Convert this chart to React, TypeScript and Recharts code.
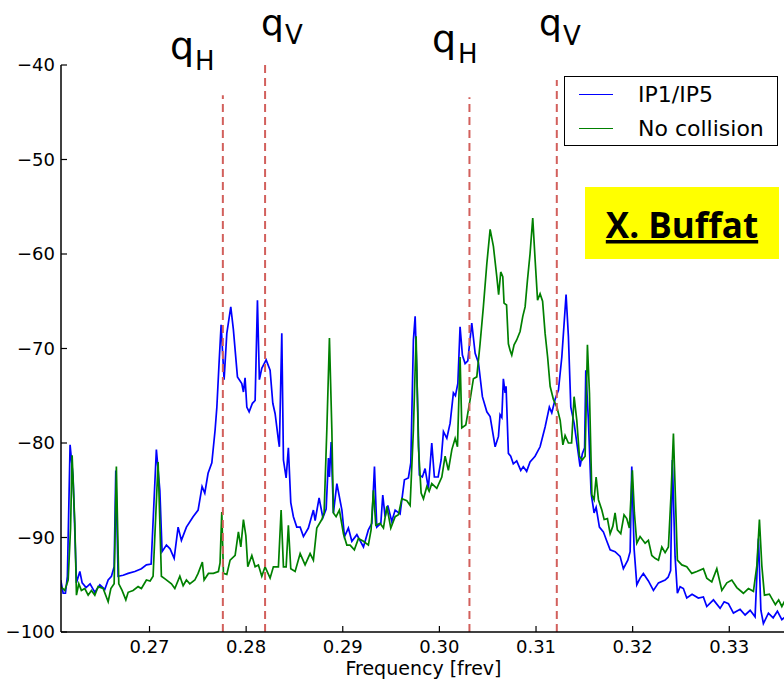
import React from 'react';
import { LineChart, Line, XAxis, YAxis, ReferenceLine, Legend, Customized } from 'recharts';

const xTicks = [0.27, 0.28, 0.29, 0.3, 0.31, 0.32, 0.33];
const yTicks = [-100, -90, -80, -70, -60, -50, -40];

// IP1/IP5 spectrum
const ip15Freq = [
  0.26082, 0.26106, 0.2613, 0.2615, 0.26178, 0.26209, 0.26244, 0.26279, 0.26303, 0.26344,
  0.26385, 0.26434, 0.26486, 0.26537, 0.26572, 0.26606, 0.26634, 0.26651, 0.26675, 0.26727,
  0.26779, 0.26848, 0.26916, 0.26968, 0.27017, 0.27071, 0.27107, 0.2713, 0.27175, 0.27213,
  0.27255, 0.27296, 0.2733, 0.27382, 0.27451, 0.27503, 0.27544, 0.27572, 0.27606, 0.27645,
  0.27679, 0.27697, 0.2772, 0.27741, 0.27759, 0.27772, 0.278, 0.27841, 0.27868, 0.2791,
  0.27955, 0.27972, 0.27989, 0.28007, 0.28031, 0.28065, 0.28093, 0.28117, 0.28137, 0.28162,
  0.28207, 0.28248, 0.28276, 0.283, 0.28334, 0.28344, 0.28369, 0.28386, 0.28414, 0.28437,
  0.28462, 0.28489, 0.28524, 0.28559, 0.28593, 0.28644, 0.28696, 0.28714, 0.28755, 0.28794,
  0.28828, 0.28852, 0.28862, 0.2888, 0.28903, 0.28939, 0.28991, 0.29018, 0.29058, 0.29094,
  0.29146, 0.29214, 0.29265, 0.29301, 0.29328, 0.29352, 0.29394, 0.29414, 0.29438, 0.29466,
  0.29507, 0.29542, 0.29593, 0.29638, 0.29679, 0.29704, 0.29731, 0.29749, 0.29766, 0.29793,
  0.29824, 0.29852, 0.29886, 0.29921, 0.29948, 0.29987, 0.30018, 0.30042, 0.30077, 0.30111,
  0.30145, 0.30166, 0.30191, 0.30214, 0.30238, 0.30266, 0.30294, 0.30335, 0.3037, 0.30404,
  0.30445, 0.30491, 0.30525, 0.30577, 0.30611, 0.30628, 0.30646, 0.30662, 0.3068, 0.3069,
  0.30714, 0.30738, 0.30765, 0.308, 0.30842, 0.30868, 0.30903, 0.30938, 0.3099, 0.31042,
  0.31094, 0.31138, 0.31163, 0.31197, 0.31232, 0.31267, 0.31311, 0.31335, 0.3136, 0.31394,
  0.31428, 0.31456, 0.3148, 0.31503, 0.31515, 0.31542, 0.3157, 0.31601, 0.31622, 0.31656,
  0.31697, 0.31733, 0.31767, 0.31818, 0.3187, 0.31904, 0.3195, 0.31974, 0.31991, 0.32015,
  0.32043, 0.32077, 0.32111, 0.32163, 0.32215, 0.32267, 0.32336, 0.32367, 0.32393, 0.32411,
  0.32439, 0.32463, 0.32491, 0.32525, 0.3256, 0.32615, 0.3268, 0.32732, 0.32767, 0.32836,
  0.32905, 0.32947, 0.32991, 0.33043, 0.33112, 0.33164, 0.33216, 0.33267, 0.33302, 0.33327,
  0.33353, 0.33405, 0.33454, 0.33498, 0.33544, 0.33579,
];
const ip15Db = [
  -94.5, -95.9, -95.9, -94.1, -80.2, -83.6, -94.8, -93.6, -94.8, -95.3,
  -94.9, -95.8, -95.0, -95.5, -94.5, -94.1, -93.1, -82.9, -94.1, -94.0,
  -93.8, -93.6, -93.3, -92.9, -92.8, -80.7, -85.0, -91.5, -90.8, -91.2,
  -92.2, -88.9, -90.3, -88.9, -87.8, -87.1, -84.6, -85.3, -83.2, -82.1,
  -78.6, -76.2, -71.5, -67.5, -70.9, -73.3, -68.4, -65.6, -68.0, -73.0,
  -73.7, -74.6, -73.1, -76.2, -76.7, -75.8, -75.5, -64.9, -73.3, -72.1,
  -71.2, -72.3, -75.8, -76.9, -79.7, -80.4, -68.4, -81.8, -83.7, -80.5,
  -86.3, -87.8, -88.9, -88.9, -89.9, -89.0, -87.1, -88.2, -85.8, -87.9,
  -87.0, -81.6, -83.6, -79.9, -87.4, -84.3, -87.1, -89.9, -89.0, -90.4,
  -89.7, -91.0, -89.2, -88.5, -82.5, -88.9, -88.5, -85.5, -87.8, -86.6,
  -88.3, -87.1, -87.5, -83.9, -83.7, -82.1, -69.1, -66.6, -72.3, -83.4,
  -83.6, -82.7, -84.8, -80.0, -83.6, -83.6, -81.8, -78.8, -79.5, -77.9,
  -74.7, -75.0, -73.7, -67.7, -70.7, -71.6, -71.3, -67.3, -70.5, -71.5,
  -75.1, -76.7, -77.2, -80.4, -79.3, -77.0, -77.3, -73.2, -74.7, -74.0,
  -81.1, -81.4, -82.2, -81.9, -82.9, -82.5, -83.0, -82.0, -81.4, -80.4,
  -78.3, -76.2, -76.8, -75.4, -74.4, -70.9, -64.3, -68.7, -76.2, -77.9,
  -80.4, -82.5, -81.1, -80.5, -72.3, -77.6, -85.3, -87.4, -86.8, -88.9,
  -89.4, -90.4, -91.3, -91.5, -92.0, -93.3, -92.4, -91.5, -82.5, -91.2,
  -95.0, -94.3, -93.8, -94.6, -95.6, -94.8, -94.5, -94.2, -93.5, -81.8,
  -92.0, -95.9, -95.2, -95.4, -96.4, -96.0, -96.4, -96.3, -97.3, -96.6,
  -97.5, -96.8, -97.0, -98.0, -97.6, -98.2, -97.7, -98.4, -90.1, -97.7,
  -99.1, -98.0, -98.5, -97.8, -98.7, -98.4,
];

// No collision spectrum
const noCollFreq = [
  0.26082, 0.26123, 0.26158, 0.26183, 0.26199, 0.26227, 0.26244, 0.26268, 0.26295, 0.2633,
  0.26365, 0.26399, 0.26434, 0.26468, 0.2652, 0.26572, 0.266, 0.26634, 0.26657, 0.26682,
  0.26716, 0.26755, 0.26779, 0.2683, 0.26882, 0.26916, 0.26968, 0.27006, 0.27037, 0.27089,
  0.27123, 0.27164, 0.27227, 0.27262, 0.27314, 0.27348, 0.27382, 0.27417, 0.27469, 0.27503,
  0.27547, 0.27565, 0.2761, 0.27661, 0.27713, 0.2773, 0.27748, 0.27765, 0.278, 0.27834,
  0.27886, 0.2792, 0.27945, 0.27972, 0.27997, 0.28017, 0.28059, 0.28093, 0.28127, 0.28162,
  0.28196, 0.28248, 0.28282, 0.28334, 0.28362, 0.28386, 0.28414, 0.28437, 0.28462, 0.28507,
  0.28559, 0.2861, 0.28662, 0.28696, 0.28731, 0.28783, 0.28807, 0.28835, 0.28862, 0.28887,
  0.28903, 0.28931, 0.28965, 0.29007, 0.29042, 0.29076, 0.2912, 0.29162, 0.29214, 0.29265,
  0.29293, 0.29317, 0.29342, 0.29386, 0.29421, 0.29456, 0.29497, 0.29542, 0.29576, 0.29611,
  0.29663, 0.29697, 0.29731, 0.29759, 0.29783, 0.29811, 0.29835, 0.2987, 0.29894, 0.29921,
  0.29973, 0.30025, 0.30059, 0.30093, 0.30129, 0.30163, 0.30187, 0.30214, 0.30232, 0.30273,
  0.30318, 0.30352, 0.30387, 0.30421, 0.30455, 0.30491, 0.30525, 0.30559, 0.30594, 0.30613,
  0.30635, 0.30656, 0.30669, 0.30695, 0.30714, 0.30732, 0.30749, 0.30773, 0.308, 0.30835,
  0.30863, 0.30887, 0.30911, 0.30938, 0.30966, 0.3099, 0.31016, 0.31042, 0.31068, 0.31094,
  0.3112, 0.31146, 0.3118, 0.31216, 0.3125, 0.31278, 0.31301, 0.31335, 0.31368, 0.31394,
  0.31422, 0.31449, 0.31477, 0.31508, 0.31532, 0.31553, 0.31578, 0.31601, 0.31622, 0.31646,
  0.31681, 0.31705, 0.31739, 0.31767, 0.31795, 0.31818, 0.31842, 0.31877, 0.31911, 0.31939,
  0.31966, 0.31997, 0.32018, 0.32043, 0.32077, 0.32129, 0.32163, 0.32198, 0.32232, 0.32267,
  0.32302, 0.32336, 0.3237, 0.32398, 0.32422, 0.32439, 0.32463, 0.32509, 0.3256, 0.32612,
  0.32664, 0.32732, 0.32767, 0.32819, 0.32871, 0.32923, 0.32975, 0.33026, 0.33078, 0.33146,
  0.33198, 0.3325, 0.33285, 0.33312, 0.33337, 0.33364, 0.33415, 0.33477, 0.33511, 0.33544,
  0.33579,
];
const noCollDb = [
  -95.2, -95.6, -94.5, -89.0, -81.3, -88.5, -96.1, -94.9, -95.6, -95.4,
  -96.1, -95.6, -96.1, -95.2, -95.4, -96.8, -95.4, -94.9, -82.5, -94.9,
  -95.6, -96.6, -95.8, -95.6, -95.2, -95.4, -94.5, -94.6, -94.1, -82.0,
  -94.1, -94.4, -94.9, -95.4, -94.1, -95.1, -94.5, -94.9, -94.5, -93.8,
  -92.6, -94.5, -93.8, -93.8, -93.6, -92.7, -87.3, -93.8, -93.9, -92.4,
  -91.9, -89.4, -91.0, -88.1, -89.8, -93.1, -91.9, -93.1, -92.9, -94.1,
  -93.1, -94.3, -93.1, -93.1, -87.1, -93.1, -93.1, -88.7, -93.3, -93.6,
  -91.7, -92.9, -91.7, -92.4, -89.0, -88.1, -87.4, -78.6, -68.9, -78.6,
  -87.4, -87.8, -87.1, -89.6, -90.8, -90.8, -91.3, -90.1, -90.4, -90.8,
  -89.2, -85.0, -88.7, -88.5, -89.0, -86.7, -89.0, -87.8, -87.6, -85.9,
  -86.1, -86.6, -78.6, -68.7, -80.4, -85.3, -85.9, -84.6, -85.1, -84.3,
  -84.8, -83.6, -81.4, -82.9, -80.7, -79.5, -80.4, -70.9, -78.4, -78.1,
  -75.4, -73.2, -73.0, -69.5, -65.6, -61.0, -57.4, -59.2, -62.4, -64.3,
  -61.9, -62.4, -65.2, -65.4, -69.5, -70.2, -70.7, -69.6, -69.1, -68.2,
  -66.6, -65.6, -62.8, -60.0, -56.2, -60.5, -64.9, -64.2, -65.0, -68.4,
  -70.9, -74.0, -75.4, -76.2, -77.6, -80.2, -79.2, -80.0, -80.0, -75.1,
  -77.6, -81.4, -81.8, -81.4, -69.6, -74.7, -85.5, -86.0, -83.6, -86.0,
  -87.1, -88.1, -88.0, -89.6, -88.8, -87.4, -89.2, -89.6, -87.6, -88.0,
  -89.0, -82.9, -87.4, -90.6, -89.9, -90.6, -90.3, -91.9, -92.2, -92.4,
  -91.0, -91.6, -91.0, -85.3, -79.0, -84.6, -92.4, -92.9, -93.1, -93.8,
  -93.6, -93.3, -94.3, -94.7, -93.3, -95.6, -94.8, -94.5, -95.3, -95.9,
  -95.4, -95.7, -93.0, -88.1, -93.0, -96.1, -96.0, -97.1, -96.6, -97.3,
  -96.6,
];

// tune markers (dashed lines): frequency and top end in dB
const tuneFreq = [0.27759, 0.28196, 0.30311, 0.31215];
const tuneTop = [-43.2, -39.5, -43.4, -41.6];

const ip15Data = ip15Freq.map((f, i) => ({ freq: f, db: ip15Db[i] }));
const noCollData = noCollFreq.map((f, i) => ({ freq: f, db: noCollDb[i] }));

const FONT = 'DejaVu Sans';
const minus = (v: number) => String(v).replace('-', '\u2212');

function LegendBox({ payload }: any) {
  return (
    <div
      style={{
        width: 214,
        height: 70,
        boxSizing: 'border-box',
        border: '1.5px solid #000',
        background: '#fff',
        fontFamily: FONT,
        fontSize: 22,
        color: '#000',
      }}
    >
      {(payload || []).map((entry: any) => (
        <div key={entry.value} style={{ display: 'flex', alignItems: 'center', height: 34 }}>
          <span style={{ width: 34, borderTop: `1.5px solid ${entry.color}`, marginLeft: 14, marginRight: 25 }} />
          <span>{entry.value}</span>
        </div>
      ))}
    </div>
  );
}

// q_H / q_V labels above the dashed tune lines, and the author tag
function Annotations() {
  return (
    <g fontFamily={FONT} fill="#000">
      <text x={170} y={59} fontSize={38}>q</text>
      <text x={195} y={70} fontSize={26}>H</text>
      <text x={261} y={35} fontSize={36}>q</text>
      <text x={285} y={44} fontSize={26}>V</text>
      <text x={432} y={52} fontSize={38}>q</text>
      <text x={458} y={63} fontSize={26}>H</text>
      <text x={539} y={35} fontSize={36}>q</text>
      <text x={563} y={45} fontSize={26}>V</text>
      <rect x={585} y={187} width={194} height={72} fill="#ffff00" />
      <text
        x={682}
        y={238}
        textAnchor="middle"
        fontFamily="Open Sans"
        fontWeight={700}
        fontSize={35}
        textDecoration="underline"
      >
        X. Buffat
      </text>
    </g>
  );
}

export default function App() {
  const axisLine = { stroke: '#000', strokeWidth: 1.5 };
  const tickLine = { stroke: '#000', strokeWidth: 1.2 };
  const tickStyle = { fill: '#000', fontSize: 18, fontFamily: FONT };
  const xDomain = [0.26084, 0.33587];

  return (
    <div style={{ position: 'fixed', left: 0, top: 0, width: 784, height: 681, overflow: 'hidden', background: '#fff' }}>
      <LineChart width={792} height={681} margin={{ top: 65, right: 6, bottom: 0, left: 0 }}>
        <XAxis
          dataKey="freq"
          type="number"
          domain={xDomain}
          allowDataOverflow
          ticks={xTicks}
          tickFormatter={(v) => v.toFixed(2)}
          height={49}
          tickSize={-6}
          tickMargin={14}
          axisLine={axisLine}
          tickLine={tickLine}
          tick={tickStyle}
          label={{ value: 'Frequency [frev]', position: 'insideBottom', offset: 6, fill: '#000', fontSize: 19, fontFamily: FONT }}
        />
        <XAxis
          xAxisId="top"
          orientation="top"
          dataKey="freq"
          type="number"
          domain={xDomain}
          allowDataOverflow
          ticks={xTicks}
          tickFormatter={() => ''}
          height={0}
          tickSize={-6}
          axisLine={axisLine}
          tickLine={tickLine}
        />
        <YAxis
          type="number"
          domain={[-100, -40]}
          ticks={yTicks}
          tickFormatter={minus}
          width={61}
          tickSize={-6}
          tickMargin={12}
          axisLine={axisLine}
          tickLine={tickLine}
          tick={tickStyle}
        />
        <YAxis
          yAxisId="right"
          orientation="right"
          type="number"
          domain={[-100, -40]}
          ticks={yTicks}
          tickFormatter={() => ''}
          width={0}
          tickSize={-6}
          axisLine={axisLine}
          tickLine={tickLine}
        />
        <Line
          data={ip15Data}
          dataKey="db"
          name="IP1/IP5"
          type="linear"
          stroke="#0000ff"
          strokeWidth={1.7}
          dot={false}
          isAnimationActive={false}
        />
        <Line
          data={noCollData}
          dataKey="db"
          name="No collision"
          type="linear"
          stroke="#008000"
          strokeWidth={1.7}
          dot={false}
          isAnimationActive={false}
        />
        {tuneFreq.map((f, i) => (
          <ReferenceLine
            key={f}
            segment={[{ x: f, y: -100 }, { x: f, y: tuneTop[i] }]}
            stroke="#d2605c"
            strokeWidth={2}
            strokeDasharray="8 5"
            ifOverflow="visible"
          />
        ))}
        <Legend
          layout="vertical"
          align="center"
          verticalAlign="middle"
          wrapperStyle={{ left: 564, top: 76, width: 214 }}
          content={<LegendBox />}
        />
        <Customized component={Annotations} />
      </LineChart>
    </div>
  );
}
